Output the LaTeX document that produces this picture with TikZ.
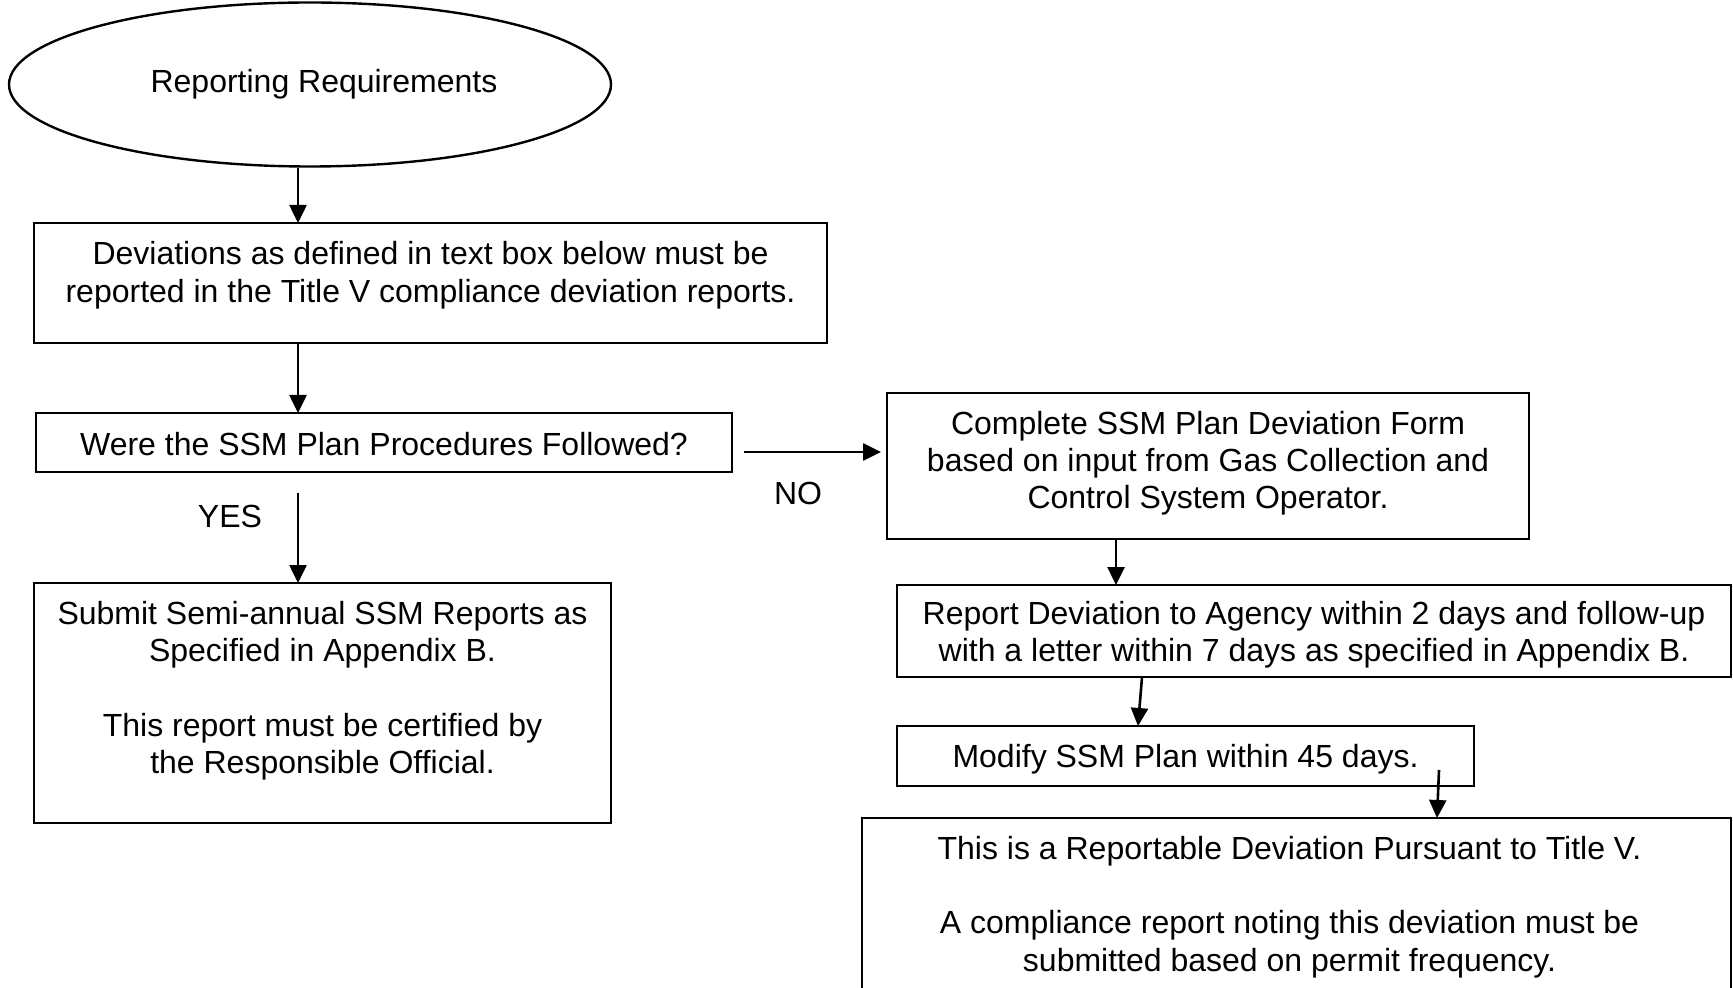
\documentclass[tikz,border=0pt]{standalone}
\usepackage{fontspec}
\setmainfont{Liberation Sans}
\usetikzlibrary{arrows.meta,shapes.geometric}
\newcommand{\btext}[4]{\parbox[t][#2][t]{#1}{\centering\rule{0pt}{#3}#4}}
\begin{document}
\begin{tikzpicture}[x=0.5pt,y=-0.5pt,
  box/.style={draw, line width=1.2pt, rectangle, inner sep=0pt, outer sep=0pt, anchor=north west},
  arr/.style={line width=1.3pt, -{Triangle[length=9pt,width=8.5pt]}},
  lbl/.style={inner sep=0pt},
  font=\fontsize{16}{18.6}\selectfont]
\useasboundingbox (0,0) rectangle (1733,988);
\clip (0,0) rectangle (1733,988);

\node[draw, ellipse, line width=1.2pt, minimum width=301pt, minimum height=82pt, inner sep=0pt] (ell) at (310,84.5) {\hspace*{14pt}Reporting Requirements};

\node[box] (b1) at (34,223) {\btext{396.5pt}{60pt}{21pt}{Deviations as defined in text box below must be\\reported in the Title V compliance deviation reports.}};
\node[box] (b2) at (36,413) {\btext{348pt}{29.5pt}{21.5pt}{Were the SSM Plan Procedures Followed?}};
\node[box] (b3) at (34,583) {\btext{288.5pt}{120pt}{20.75pt}{Submit Semi-annual SSM Reports as\\Specified in Appendix B.\\[18.6pt]This report must be certified by\\the Responsible Official.}};
\node[box] (b4) at (887,393) {\btext{321pt}{73pt}{20.75pt}{Complete SSM Plan Deviation Form\\based on input from Gas Collection and\\Control System Operator.}};
\node[box] (b5) at (897,585) {\btext{417pt}{46pt}{19.75pt}{Report Deviation to Agency within 2 days and follow-up\\with a letter within 7 days as specified in Appendix B.}};
\node[box] (b6) at (897,726) {\btext{288.5pt}{30pt}{20.75pt}{Modify SSM Plan within 45 days.}};
\node[box] (b7) at (862,818) {\parbox[t][100pt][t]{434.5pt}{\centering\advance\rightskip 7pt\rule{0pt}{20.75pt}This is a Reportable Deviation Pursuant to Title V.\\[18.6pt]A compliance report noting this deviation must be\\submitted based on permit frequency.}};

\node[lbl] (yes) at (230,516) {YES};
\node[lbl] (no) at (798,493) {NO};

\coordinate (colA) at (298,0);
\coordinate (colB) at (1116,0);
\coordinate (noY) at (0,452);

\draw[arr] (colA |- ell.south) -- (colA |- b1.north);
\draw[arr] (colA |- b1.south) -- (colA |- b2.north);
\draw[arr] ([yshift=-10.5pt]colA |- b2.south) -- (colA |- b3.north);
\draw[arr] ([xshift=6pt]b2.east |- noY) -- ([xshift=-3pt]b4.west |- noY);
\draw[arr] (colB |- b4.south) -- (colB |- b5.north);
\draw[arr] ([xshift=122.5pt]b5.south west) -- ([xshift=120.5pt]b6.north west);
\draw[arr] ([xshift=271pt,yshift=8pt]b6.south west) -- ([xshift=287.5pt]b7.north west);
\end{tikzpicture}
\end{document}
